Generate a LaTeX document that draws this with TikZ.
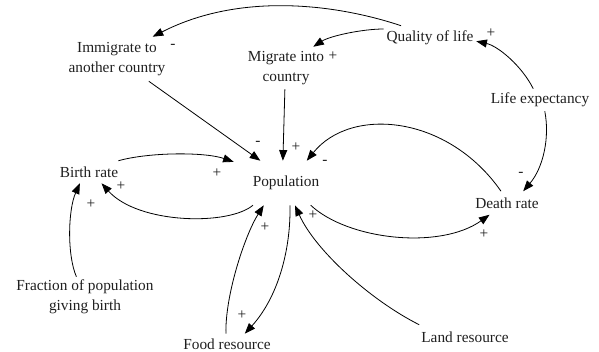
\documentclass[tikz,border=0pt]{standalone}
\usepackage{fontspec}
\setmainfont{Liberation Serif}
\usetikzlibrary{arrows.meta}
\begin{document}
\begin{tikzpicture}[x=0.75pt,y=-0.75pt,
  every node/.style={font=\fontsize{11.5}{15}\selectfont, text=black!88},
  var/.style={rectangle, inner sep=0pt, align=center},
  pol/.style={inner sep=0pt},
  link/.style={line width=0.6pt, -{Triangle[length=8pt,width=6pt]}}]
\useasboundingbox (0,0) rectangle (599,352);
% variables
\node[var, minimum width=78pt, minimum height=33pt] (imm) at (117,59) {Immigrate to\\another country};
\node[var, minimum width=60pt, minimum height=31.5pt] (mig) at (286,68) {Migrate into\\country};
\node[var, minimum width=69pt, minimum height=18pt] (qol) at (430,38) {Quality of life};
\node[var, minimum width=75pt, minimum height=16.5pt] (life) at (540,100) {Life expectancy};
\node[var, minimum width=51pt, minimum height=17.25pt] (death) at (507,203) {Death rate};
\node[var, minimum width=78pt, minimum height=33pt] (pop) at (286,183) {Population};
\node[var, minimum width=43.5pt, minimum height=16.5pt] (birth) at (89,172) {Birth rate};
\node[var, minimum width=108pt, minimum height=30pt] (frac) at (85,297) {Fraction of population\\giving birth};
\node[var, minimum width=72pt, minimum height=15pt] (food) at (227,344) {Food resource};
\node[var, minimum width=69pt, minimum height=18pt] (land) at (465,337) {Land resource};
% links
\draw[link] (qol.157) .. controls (336,4) and (240,-8) .. (imm.32);
\draw[link] (qol.169) .. controls (362,29) and (330,36) .. (mig.38);
\draw[link] (life.121) .. controls (522,66) and (498,46) .. (qol.-4);
\draw[link] (life.-67) .. controls (550,138) and (543,168) .. (death.36);
\draw[link] (death.117) .. controls (448,115) and (351,106) .. (pop.47);
\draw[link] (imm.-35) -- (pop.139);
\draw[link] (mig.-93) -- (pop.98);
\draw[link] (birth.21) .. controls (150,152) and (205,152) .. (pop.158);
\draw[link] (pop.-146) .. controls (228,226) and (138,224) .. (birth.-42);
\draw[link] (frac.113) .. controls (67,255) and (68,210) .. (birth.231);
\draw[link] (food.96) .. controls (225,295) and (245,235) .. (pop.-135);
\draw[link] (pop.-80) .. controls (291,245) and (280,295) .. (food.30);
\draw[link] (pop.-42) .. controls (348,240) and (440,250) .. (death.214);
\draw[link] (land.165) .. controls (370,300) and (315,250) .. (pop.-68);
% polarities
\node[pol] (m1) at (173,46) {-};
\node[pol] (p1) at (333,56) {+};
\node[pol] (p2) at (491,33) {+};
\node[pol] (m2) at (521,174) {-};
\node[pol] (p3) at (484,234) {+};
\node[pol] (m3) at (258,143) {-};
\node[pol] (p4) at (296,147) {+};
\node[pol] (m4) at (325,162) {-};
\node[pol] (p5) at (217,173) {+};
\node[pol] (p6) at (121,186) {+};
\node[pol] (p7) at (91,204) {+};
\node[pol] (p8) at (265,227) {+};
\node[pol] (p9) at (313,215) {+};
\node[pol] (p10) at (242,315) {+};
\end{tikzpicture}
\end{document}
